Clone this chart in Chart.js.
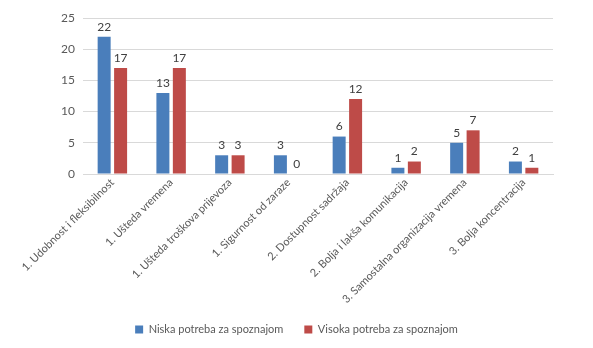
<!DOCTYPE html>
<html>
<head>
<meta charset="utf-8">
<script src="https://cdn.jsdelivr.net/npm/chart.js@4"></script>
<style>
html,body{margin:0;padding:0;background:#fff;}
#wrap{width:593px;height:348px;}
</style>
</head>
<body>
<div id="wrap"><canvas id="c" width="593" height="348"></canvas></div>
<script>
const categories = [
  "1. Udobnost i fleksibilnost",
  "1. Ušteda vremena",
  "1. Ušteda troškova prijevoza",
  "1. Sigurnost od zaraze",
  "2. Dostupnost sadržaja",
  "2. Bolja i lakša komunikacija",
  "3. Samostalna organizacija vremena",
  "3. Bolja koncentracija"
];
const niskaValues = [22, 13, 3, 3, 6, 1, 5, 2];
const visokaValues = [17, 17, 3, 0, 12, 2, 7, 1];
const seriesNames = ["Niska potreba za spoznajom", "Visoka potreba za spoznajom"];
const yTicks = [0, 5, 10, 15, 20, 25];

const FONT = "Lato, 'Open Sans', sans-serif";

const valueLabels = {
  id: 'valueLabels',
  afterDatasetsDraw(chart) {
    const ctx = chart.ctx;
    ctx.save();
    ctx.font = "12px " + FONT;
    ctx.fillStyle = "#404040";
    ctx.textAlign = "center";
    ctx.textBaseline = "bottom";
    chart.data.datasets.forEach((ds, i) => {
      const meta = chart.getDatasetMeta(i);
      meta.data.forEach((el, j) => {
        ctx.fillText(String(ds.data[j]), el.x, el.y - 4);
      });
    });
    ctx.restore();
  }
};

new Chart(document.getElementById('c'), {
  type: 'bar',
  data: {
    labels: categories,
    datasets: [
      { label: seriesNames[0], data: niskaValues, backgroundColor: '#4a7ebb', categoryPercentage: 0.56, barPercentage: 0.79 },
      { label: seriesNames[1], data: visokaValues, backgroundColor: '#be4b48', categoryPercentage: 0.56, barPercentage: 0.79 }
    ]
  },
  options: {
    responsive: false,
    devicePixelRatio: 1,
    animation: false,
    layout: { padding: { top: 18, right: 0, bottom: 3, left: 0 } },
    plugins: {
      legend: {
        position: 'bottom',
        labels: { boxWidth: 8, boxHeight: 8, color: '#595959', font: { size: 11, family: FONT }, padding: 21 }
      },
      tooltip: { enabled: false }
    },
    scales: {
      y: {
        min: 0, max: 25,
        afterBuildTicks(scale) { scale.ticks = yTicks.map(v => ({ value: v })); },
        ticks: { color: '#595959', font: { size: 12, family: FONT }, padding: 8 },
        grid: { color: '#d9d9d9', drawTicks: false },
        border: { display: false },
        afterFit(scale) { scale.width = 83; }
      },
      yRight: {
        position: 'right',
        min: 0, max: 25,
        ticks: { display: false },
        grid: { display: false, drawTicks: false },
        border: { display: false },
        afterFit(scale) { scale.width = 40; }
      },
      x: {
        ticks: { color: '#595959', font: { size: 11, family: FONT }, minRotation: 45, maxRotation: 45, padding: 2 },
        grid: { display: false, drawTicks: false },
        border: { color: '#d9d9d9' },
        afterFit(scale) { scale.height = 129; }
      }
    }
  },
  plugins: [valueLabels]
});
</script>
</body>
</html>
